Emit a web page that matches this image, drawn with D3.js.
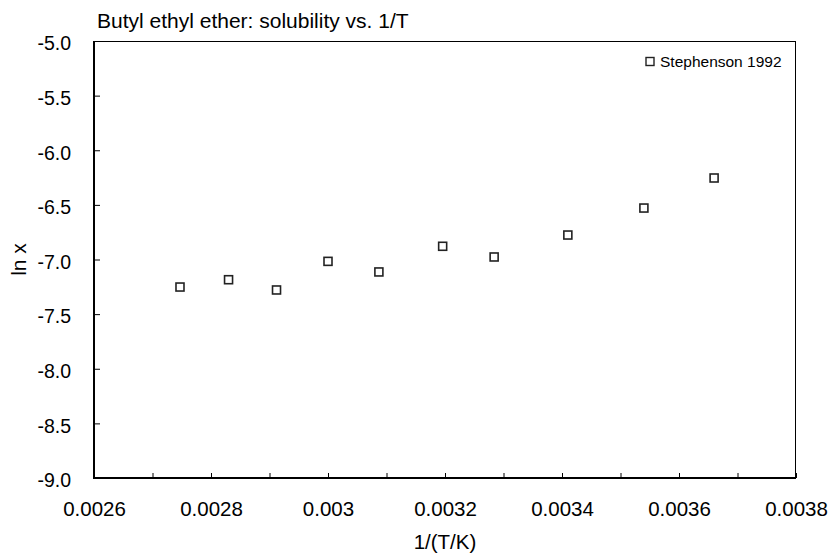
<!DOCTYPE html>
<html>
<head>
<meta charset="utf-8">
<script src="https://cdn.jsdelivr.net/npm/d3@7/dist/d3.min.js"></script>
<style>
  html, body { margin: 0; padding: 0; background: #fff; }
  svg { display: block; font-family: "Liberation Sans", Arial, sans-serif; }
</style>
</head>
<body>
<svg id="chart" width="832" height="555"></svg>
<script>
// Data
const invT = [0.002747, 0.00283, 0.002912, 0.0030, 0.003087, 0.003196, 0.003284, 0.00341, 0.00354, 0.00366];
const lnX  = [-7.252, -7.185, -7.279, -7.017, -7.114, -6.879, -6.977, -6.776, -6.529, -6.254];
const seriesName = "Stephenson 1992";
const xTickValues = [0.0026, 0.0028, 0.003, 0.0032, 0.0034, 0.0036, 0.0038];
const xMinorTickValues = [0.0026, 0.0027, 0.0028, 0.0029, 0.003, 0.0031, 0.0032, 0.0033, 0.0034, 0.0035, 0.0036, 0.0037, 0.0038];
const yTickValues = [-9.0, -8.5, -8.0, -7.5, -7.0, -6.5, -6.0, -5.5, -5.0];
const titleText = "Butyl ethyl ether: solubility vs. 1/T";
const xLabel = "1/(T/K)";
const yLabel = "ln x";

const svg = d3.select("#chart");
const L = 94, R = 796, T = 41, B = 478;

const x = d3.scaleLinear().domain([0.0026, 0.0038]).range([L, R]);
const y = d3.scaleLinear().domain([-9, -5]).range([B, T]);

// plot frame (top/right thin)
svg.append("line").attr("x1", L).attr("x2", R).attr("y1", T + 0.5).attr("y2", T + 0.5)
  .attr("stroke", "#000").attr("stroke-width", 1);
svg.append("line").attr("x1", R - 0.5).attr("x2", R - 0.5).attr("y1", T).attr("y2", B)
  .attr("stroke", "#000").attr("stroke-width", 1);

// x axis minor/major ticks (inward)
const xAxisMinor = d3.axisBottom(x).tickValues(xMinorTickValues).tickSize(-5).tickFormat("");
const gxm = svg.append("g").attr("transform", `translate(0,${B})`).call(xAxisMinor);
gxm.select(".domain").remove();
gxm.selectAll("line").attr("stroke", "#000").attr("stroke-width", 1);

const fmtX = v => String(+v.toFixed(4));
const xAxis = d3.axisBottom(x).tickValues(xTickValues).tickSize(0).tickPadding(23).tickFormat(fmtX);
const gx = svg.append("g").attr("transform", `translate(0,${B})`).call(xAxis);
gx.select(".domain").remove();
gx.selectAll("text").attr("font-size", "20.5px").attr("font-family", "Liberation Sans, Arial, sans-serif").attr("fill", "#000");

// y axis
const yAxis = d3.axisLeft(y).tickValues(yTickValues).tickSize(-6).tickPadding(23).tickFormat(d3.format(".1f"));
const gy = svg.append("g").attr("transform", `translate(${L},0)`).call(yAxis);
gy.select(".domain").remove();
gy.selectAll("line").attr("stroke", "#000").attr("stroke-width", 1);
gy.selectAll("text").attr("font-size", "19.5px").attr("font-family", "Liberation Sans, Arial, sans-serif")
  .attr("fill", "#000").attr("dy", "0.45em").text(d => d3.format(".1f")(d).replace("\u2212", "-"));

// left / bottom thick axis lines
svg.append("line").attr("x1", L).attr("x2", L).attr("y1", T).attr("y2", B + 1)
  .attr("stroke", "#000").attr("stroke-width", 2);
svg.append("line").attr("x1", L - 1).attr("x2", R).attr("y1", B).attr("y2", B)
  .attr("stroke", "#000").attr("stroke-width", 2);

// points
const pts = invT.map((v, i) => ({ x: v, y: lnX[i] }));
svg.append("g").selectAll("rect").data(pts).join("rect")
  .attr("x", d => x(d.x) - 4).attr("y", d => y(d.y) - 4)
  .attr("width", 8).attr("height", 8)
  .attr("fill", "#fff").attr("stroke", "#222").attr("stroke-width", 1.6);

// legend
svg.append("rect").attr("x", 646).attr("y", 57.5).attr("width", 8).attr("height", 8)
  .attr("fill", "#fff").attr("stroke", "#222").attr("stroke-width", 1.4);
svg.append("text").attr("x", 660).attr("y", 66.5).attr("font-size", "15.5px").attr("fill", "#000").text(seriesName);

// title
svg.append("text").attr("x", 97).attr("y", 28).attr("font-size", "21px").attr("fill", "#000").text(titleText);

// axis titles
svg.append("text").attr("x", (L + R) / 2).attr("y", 549).attr("text-anchor", "middle")
  .attr("font-size", "20.5px").attr("fill", "#000").text(xLabel);
svg.append("text").attr("transform", `translate(26,${(T + B) / 2}) rotate(-90)`).attr("text-anchor", "middle")
  .attr("font-size", "21px").attr("fill", "#000").text(yLabel);
</script>
</body>
</html>
